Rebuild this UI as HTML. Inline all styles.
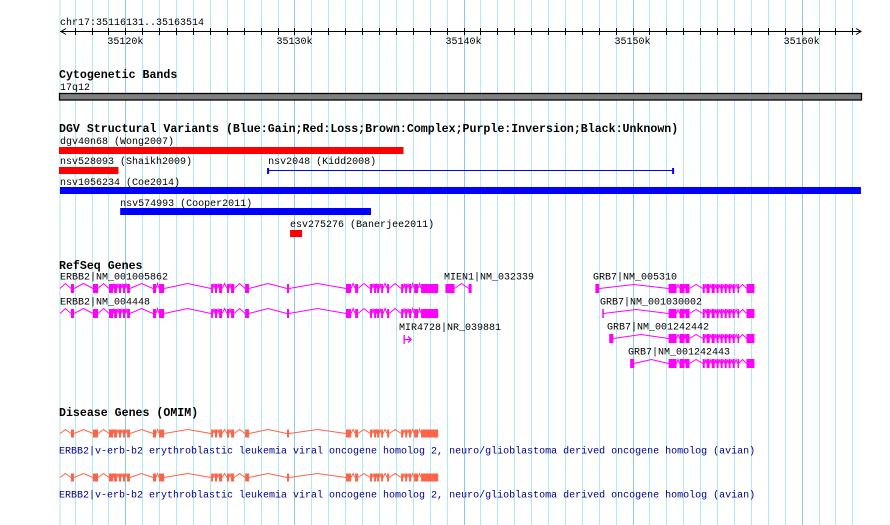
<!DOCTYPE html>
<html><head><meta charset="utf-8">
<style>
html,body{margin:0;padding:0;background:#fff;}
svg{display:block;}
text{font-family:"Liberation Mono",monospace;font-size:10px;fill:#000;}
.title{font-weight:bold;font-size:11.6px;}
</style></head>
<body>
<svg id="chart" width="890" height="525" viewBox="0 0 890 525" xmlns="http://www.w3.org/2000/svg">
<g id="grid"></g>
<g id="ruler">
<text x="60" y="25">chr17:35116131..35163514</text>
</g>
<g id="cyto">
<text class="title" x="59" y="78">Cytogenetic Bands</text>
<text x="60" y="90">17q12</text>
</g>
<g id="dgv">
<text class="title" x="59" y="132">DGV Structural Variants (Blue:Gain;Red:Loss;Brown:Complex;Purple:Inversion;Black:Unknown)</text>
</g>
<g id="refseq">
<text class="title" x="59" y="269">RefSeq Genes</text>
</g>
<g id="omim">
<text class="title" x="59" y="416">Disease Genes (OMIM)</text>
</g>
</svg>
<script>
const NS = "http://www.w3.org/2000/svg";
const viewStart = 35116131, viewEnd = 35163514;
const rulerTicksKb = [35117,35118,35119,35120,35121,35122,35123,35124,35125,35126,35127,35128,35129,35130,35131,35132,35133,35134,35135,35136,35137,35138,35139,35140,35141,35142,35143,35144,35145,35146,35147,35148,35149,35150,35151,35152,35153,35154,35155,35156,35157,35158,35159,35160,35161,35162,35163];
const rulerLabels = ["35120k","35130k","35140k","35150k","35160k"];
const rulerLabelKb = [35120,35130,35140,35150,35160];
// DGV variants
const dgvNames = ["dgv40n68 (Wong2007)","nsv528093 (Shaikh2009)","nsv2048 (Kidd2008)","nsv1056234 (Coe2014)","nsv574993 (Cooper2011)","esv275276 (Banerjee2011)"];
const dgvStart = [35116.07,35116.07,35128.44,35116.13,35119.69,35129.74];
const dgvEnd = [35136.45,35119.59,35152.40,35163.51,35134.53,35130.45];
const dgvColor = ["#ff0000","#ff0000","#0000ff","#0000ff","#0000ff","#ff0000"];
const dgvThin = [false,false,true,false,false,false];
const dgvRow = [0,1,1,2,3,4];
// ERBB2 exons (kb)
const erbb2ExonStart = [35116.78,35118.08,35119.03,35119.33,35119.62,35119.86,35120.10,35121.63,35121.99,35125.07,35125.30,35125.54,35126.01,35126.25,35127.08,35129.56,35133.05,35133.59,35134.47,35134.71,35134.89,35135.13,35135.48,35136.31,35136.55,35136.78,35137.08,35137.49];
const erbb2ExonEnd = [35116.96,35118.38,35119.27,35119.50,35119.74,35119.98,35120.27,35121.81,35122.29,35125.18,35125.42,35125.72,35126.13,35126.43,35127.31,35129.68,35133.35,35133.76,35134.59,35134.83,35135.01,35135.24,35135.60,35136.43,35136.66,35136.90,35137.31,35138.50];
const erbb2Start = 35116.13;
// MIEN1
const mien1ExonStart = [35138.93,35140.30];
const mien1ExonEnd = [35139.47,35140.48];
// GRB7 shared exons
const grb7ExonStart = [35152.13,35152.78,35153.13,35154.15,35154.38,35154.68,35154.97,35155.21,35155.45,35155.68,35155.92,35156.21,35156.74];
const grb7ExonEnd = [35152.60,35153.07,35153.37,35154.27,35154.56,35154.86,35155.09,35155.33,35155.57,35155.80,35156.04,35156.27,35157.21];
const grb7Names = ["GRB7|NM_005310","GRB7|NM_001030002","GRB7|NM_001242442","GRB7|NM_001242443"];
const grb7FirstStart = [35147.80,35148.21,35148.62,35149.86];
const grb7FirstEnd = [35148.03,35148.27,35148.86,35150.10];

function xs(kb){ return 60 + (kb*1000 - viewStart) / (viewEnd - viewStart) * 801; }
function el(tag, attrs, parent){ const e = document.createElementNS(NS, tag); for (const k in attrs) e.setAttribute(k, attrs[k]); parent.appendChild(e); return e; }

const grid = document.getElementById('grid');
el('line',{x1:60,x2:60,y1:0,y2:525,stroke:'#a8e8f0','stroke-width':1},grid);
rulerTicksKb.forEach(k=>{
  const x = Math.round(xs(k))+0.5;
  const l = el('line',{x1:x,x2:x,y1:0,y2:525,stroke:(k%10===0)?'#8cc8e8':'#aeeaf2','stroke-width':1},grid);
  
  
});

const ruler = document.getElementById('ruler');
el('line',{x1:60,x2:861,y1:31.5,y2:31.5,stroke:'#000'},ruler);
el('path',{d:'M66 28.5 L61 31.5 L66 34.5',fill:'none',stroke:'#000'},ruler);
el('path',{d:'M856 28.5 L861 31.5 L856 34.5',fill:'none',stroke:'#000'},ruler);
rulerTicksKb.forEach(k=>{
  const x = Math.round(xs(k))+0.5;
  const t = el('line',{x1:x,x2:x,y1:28,y2:35,stroke:'#000'},ruler);
  
  
});
rulerLabelKb.forEach((k,i)=>{
  const t = el('text',{x:xs(k),y:44,'text-anchor':'middle'},ruler);
  t.textContent = rulerLabels[i];
  
  
});

const cyto = document.getElementById('cyto');
const cb = el('rect',{x:59.5,y:93.5,width:802,height:6.5,fill:'#808080',stroke:'#000','stroke-width':1.3},cyto);



const dgv = document.getElementById('dgv');
const rowLabelY = [144,164,185,206,227];
const rowBarY = [147,167,187,208,230];
dgvNames.forEach((n,i)=>{
  const x1 = xs(dgvStart[i]), x2 = xs(dgvEnd[i]);
  const r = dgvRow[i];
  const g = el('g',{},dgv);
  
  
  const t = el('text',{x:Math.max(60,x1),y:rowLabelY[r]},g);
  t.textContent = n;
  const by = rowBarY[r];
  if (dgvThin[i]){
    el('line',{x1:x1,x2:x2,y1:by+3.5,y2:by+3.5,stroke:dgvColor[i],'stroke-width':1},g);
    el('rect',{x:x1-1,y:by+1,width:2,height:6,fill:dgvColor[i]},g);
    el('rect',{x:x2-1,y:by+1,width:2,height:6,fill:dgvColor[i]},g);
  } else {
    el('rect',{x:x1,y:by,width:x2-x1,height:7,fill:dgvColor[i]},g);
  }
});

function drawGene(parent, starts, ends, geneStart, geneEnd, yc, h, peak, color){
  let prev = geneStart;
  const seg = [];
  for (let i=0;i<starts.length;i++){
    if (starts[i] > prev){
      const a = xs(prev), b = xs(starts[i]);
      seg.push(`M${a} ${yc} L${(a+b)/2} ${yc-peak} L${b} ${yc}`);
    }
    prev = Math.max(prev, ends[i]);
  }
  if (geneEnd > prev){ const a=xs(prev), b=xs(geneEnd); seg.push(`M${a} ${yc} L${(a+b)/2} ${yc-peak} L${b} ${yc}`); }
  el('path',{d:seg.join(' '),fill:'none',stroke:color,'stroke-width':1},parent);
  for (let i=0;i<starts.length;i++){
    const x1 = xs(starts[i]), x2 = xs(ends[i]);
    const r = el('rect',{x:x1,y:yc-h/2,width:Math.max(1.5,x2-x1),height:h,fill:color},parent);
    
    
  }
}

const refseq = document.getElementById('refseq');
const erbbLabels = ["ERBB2|NM_001005862","ERBB2|NM_004448"];
[0,1].forEach(r=>{
  const g = el('g',{},refseq);
  
  
  const yc = r===0?288.5:313.5;
  const t = el('text',{x:60,y:yc-9},g); t.textContent = erbbLabels[r];
  drawGene(g, erbb2ExonStart, erbb2ExonEnd, erbb2Start, erbb2ExonEnd[erbb2ExonEnd.length-1], yc, 9, 5, '#ff00ff');
});
(function(){
  const g = el('g',{},refseq);
  
  
  const t = el('text',{x:444,y:279.5},g); t.textContent = 'MIEN1|NM_032339';
  drawGene(g, mien1ExonStart, mien1ExonEnd, mien1ExonStart[0], mien1ExonEnd[1], 288.5, 9, 5, '#ff00ff');
  const g2 = el('g',{},refseq);
  
  
  const t2 = el('text',{x:399,y:330},g2); t2.textContent = 'MIR4728|NR_039881';
  const mx = xs(35136.49);
  el('path',{d:`M${mx} 335 L${mx} 344 M${mx} 339.5 L${mx+7} 339.5 M${mx+4} 336.5 L${mx+7} 339.5 L${mx+4} 342.5`,fill:'none',stroke:'#ff00ff','stroke-width':1.3},g2);
})();
const grbY = [288.5,313.5,338.5,363.5];
const grbLabelX = [593,600,607,628];
grb7Names.forEach((n,i)=>{
  const g = el('g',{},refseq);
  
  
  const t = el('text',{x:grbLabelX[i],y:grbY[i]-9},g); t.textContent = n;
  const s = [grb7FirstStart[i]].concat(grb7ExonStart);
  const e = [grb7FirstEnd[i]].concat(grb7ExonEnd);
  drawGene(g, s, e, grb7FirstStart[i], grb7ExonEnd[grb7ExonEnd.length-1], grbY[i], 9, 4, '#ff00ff');
});

const omim = document.getElementById('omim');
const omimY = [433.5,477.5];
omimY.forEach((yc,i)=>{
  const g = el('g',{},omim);
  
  
  drawGene(g, erbb2ExonStart, erbb2ExonEnd, erbb2Start, erbb2ExonEnd[erbb2ExonEnd.length-1], yc, 8, 4, '#ff6347');
  const t = el('text',{x:59,y:yc+20,style:'fill:#00008b'},g);
  t.textContent = 'ERBB2|v-erb-b2 erythroblastic leukemia viral oncogene homolog 2, neuro/glioblastoma derived oncogene homolog (avian)';
});
</script>
</body></html>
